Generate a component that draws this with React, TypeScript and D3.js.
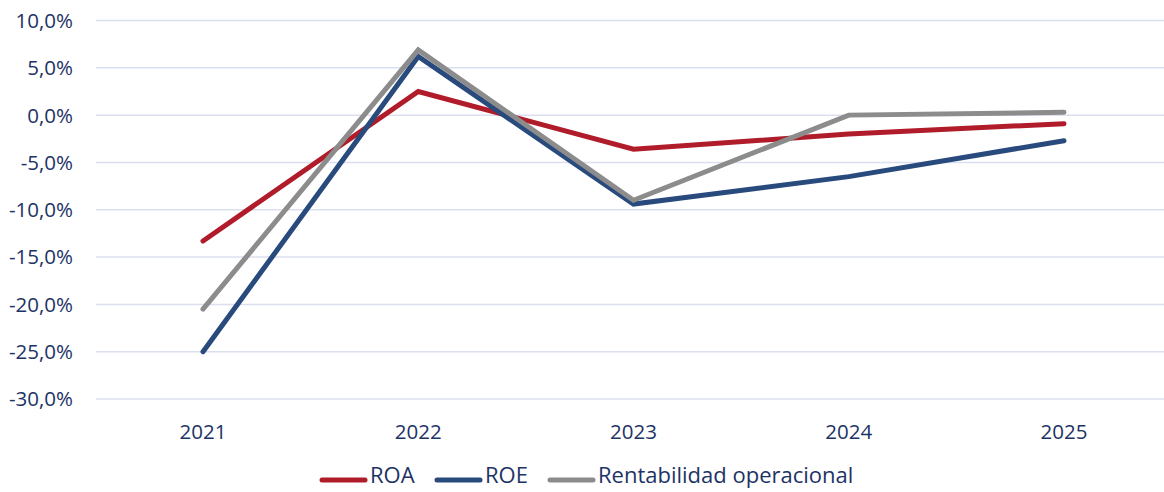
import * as d3 from "d3";

const years = ["2021", "2022", "2023", "2024", "2025"];
const roa = [-13.3, 2.5, -3.6, -2.0, -0.9];
const roe = [-25.0, 6.2, -9.4, -6.5, -2.7];
const rentabilidad = [-20.5, 6.9, -9.0, 0.0, 0.3];
const yTicks = [10, 5, 0, -5, -10, -15, -20, -25, -30];

const series = [
  { name: "ROA", values: roa, color: "#b01c2a" },
  { name: "ROE", values: roe, color: "#284a7c" },
  { name: "Rentabilidad operacional", values: rentabilidad, color: "#8c8c8c" },
];

const width = 1164;
const height = 492;
const font = "'Open Sans', 'Noto Sans', sans-serif";
const textColor = "#1d3366";

export default function App() {
  const x = d3.scalePoint<string>().domain(years).range([203, 1064]);
  const y = d3.scaleLinear().domain([-30, 10]).range([399, 20.5]);
  const line = d3
    .line<number>()
    .x((d, i) => x(years[i]) as number)
    .y((d) => y(d));
  const fmt = (v: number) => d3.format(".1f")(v).replace(".", ",").replace("−", "-") + "%";

  const legendX = [320, 435, 548];

  return (
    <svg
      width={width}
      height={height}
      style={{ position: "absolute", left: 0, top: 0, background: "#fff" }}
      fontFamily={font}
    >
      {yTicks.map((t) => (
        <g key={t}>
          <line x1={96} x2={1164} y1={y(t)} y2={y(t)} stroke="#dcdff0" strokeWidth={1.5} />
          <text x={73} y={y(t)} dy="0.36em" textAnchor="end" fontSize={20.5} fill={textColor}>
            {fmt(t)}
          </text>
        </g>
      ))}
      {years.map((yr) => (
        <text key={yr} x={x(yr)} y={432} dy="0.36em" textAnchor="middle" fontSize={20.5} fill={textColor}>
          {yr}
        </text>
      ))}
      {series.map((s) => (
        <path
          key={s.name}
          d={line(s.values) || ""}
          fill="none"
          stroke={s.color}
          strokeWidth={5}
          strokeLinecap="round"
          strokeLinejoin="miter"
        />
      ))}
      {series.map((s, i) => (
        <g key={s.name} transform={`translate(${legendX[i]},476)`}>
          <line x1={2} x2={45} y1={4} y2={4} stroke={s.color} strokeWidth={5} strokeLinecap="round" />
          <text x={50} y={0} dy="0.34em" fontSize={22} fill={textColor}>
            {s.name}
          </text>
        </g>
      ))}
    </svg>
  );
}
